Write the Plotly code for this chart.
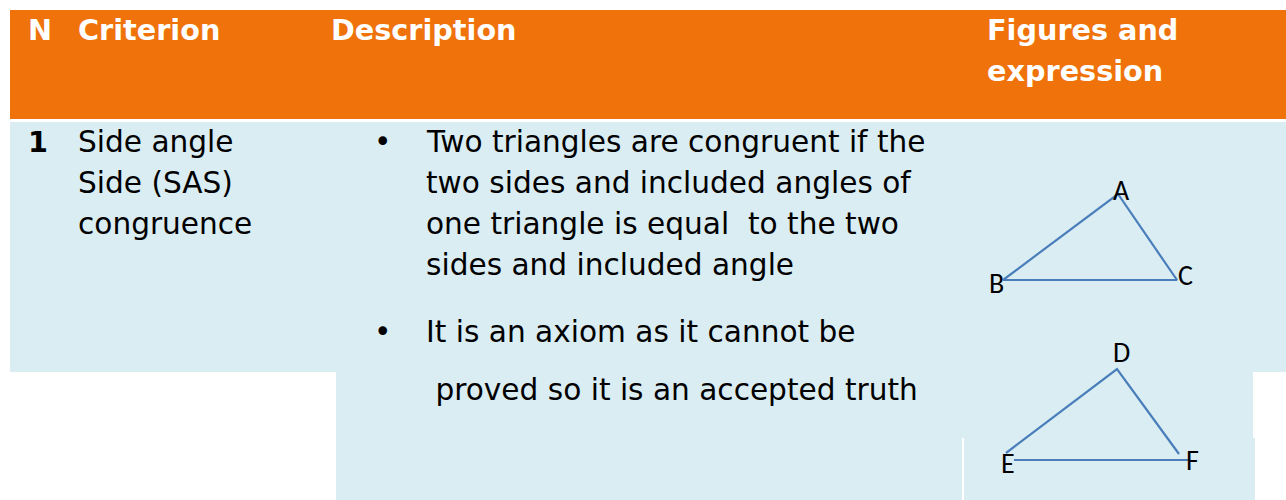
import plotly.graph_objects as go

# ---- content ----
header_cols = ["N", "Criterion", "Description", "Figures and<br>expression"]
row_number = ["1"]
criterion_lines = ["Side angle", "Side (SAS)", "congruence"]
bullet1_lines = ["Two triangles are congruent if the",
                 "two sides and included angles of",
                 "one triangle is equal  to the two",
                 "sides and included angle"]
bullet2_lines = ["It is an axiom as it cannot be",
                 " proved so it is an accepted truth"]

# triangle ABC (pixel-space coordinates of the drawing)
tri1_names = ["A", "B", "C"]
tri1_x = [1118, 1003, 1177]
tri1_y = [194, 280, 280]
# triangle DEF (open drawing: two sides + separate base)
tri2_names = ["D", "E", "F"]
tri2_x = [1117, 1006, 1179]
tri2_y = [369, 453, 454]
tri2_base_x = [1014, 1188]
tri2_base_y = [460, 460]

ORANGE = "#EF720A"
BLUE = "#DAEDF3"
LINE = "#4A7EBB"
W, H = 1286, 500

fig = go.Figure()

shapes = []
def rect(x0, y0, x1, y1, c):
    shapes.append(dict(type="rect", xref="x", yref="y", x0=x0, y0=y0, x1=x1, y1=y1,
                       fillcolor=c, line=dict(width=0), layer="below"))

rect(10, 10, 1290, 119, ORANGE)
rect(10, 122, 1290, 372, BLUE)
rect(336, 372, 1253, 438, BLUE)
rect(336, 438, 962, 505, BLUE)
rect(964, 438, 1255, 505, BLUE)

# triangles
fig.add_trace(go.Scatter(x=[tri1_x[1], tri1_x[0], tri1_x[2], tri1_x[1]],
                         y=[tri1_y[1], tri1_y[0], tri1_y[2], tri1_y[1]],
                         mode="lines", line=dict(color=LINE, width=2.2),
                         hoverinfo="skip", showlegend=False))
fig.add_trace(go.Scatter(x=[tri2_x[1], tri2_x[0], tri2_x[2]],
                         y=[tri2_y[1], tri2_y[0], tri2_y[2]],
                         mode="lines", line=dict(color=LINE, width=2.2),
                         hoverinfo="skip", showlegend=False))
fig.add_trace(go.Scatter(x=tri2_base_x, y=tri2_base_y,
                         mode="lines", line=dict(color=LINE, width=2.2),
                         hoverinfo="skip", showlegend=False))

ann = []
FONT = "DejaVu Sans, Verdana, sans-serif"
def text(x, y, s, size=29.6, color="black", bold=False, family=FONT, xanchor="left"):
    if bold:
        s = "<b>" + s + "</b>"
    ann.append(dict(x=x, y=y, xref="x", yref="y", text=s, showarrow=False,
                    xanchor=xanchor, yanchor="middle", align="left",
                    font=dict(size=size, color=color, family=family)))

HS = 28.7
# header
hx = [26, 76, 329, 985]
text(hx[0], 30, header_cols[0], HS, "white", True)
text(hx[1], 30, header_cols[1], HS, "white", True)
text(hx[2], 30, header_cols[2], HS, "white", True)
h3 = header_cols[3].split("<br>")
text(hx[3], 30, h3[0], HS, "white", True)
text(hx[3], 71, h3[1], HS, "white", True)

# row
text(26, 142, row_number[0], HS, "black", True)
for i, s in enumerate(criterion_lines):
    text(76, 142 + 41 * i, s)
text(372, 142, "•")
for i, s in enumerate(bullet1_lines):
    text(424, 142 + 41 * i, s)
text(372, 332, "•")
text(424, 332, bullet2_lines[0])
text(424, 390, bullet2_lines[1])

# vertex labels
LF = "Carlito, Lato, sans-serif"
lab1 = [(1121, 190), (996, 283), (1185, 275)]
for n, (x, y) in zip(tri1_names, lab1):
    text(x, y, n, 28, "black", False, LF, "center")
lab2 = [(1121, 352), (1008, 463), (1192, 460)]
for n, (x, y) in zip(tri2_names, lab2):
    text(x, y, n, 28, "black", False, LF, "center")

fig.update_layout(
    width=W, height=H, margin=dict(l=0, r=0, t=0, b=0),
    paper_bgcolor="white", plot_bgcolor="white",
    shapes=shapes, annotations=ann,
    xaxis=dict(range=[0, W], visible=False, fixedrange=True),
    yaxis=dict(range=[H, 0], visible=False, fixedrange=True),
    showlegend=False,
)
fig.write_html("out.html",
               config={"displayModeBar": False},
               post_script="document.body.style.margin='0';"
                           "document.body.style.overflow='hidden';")
